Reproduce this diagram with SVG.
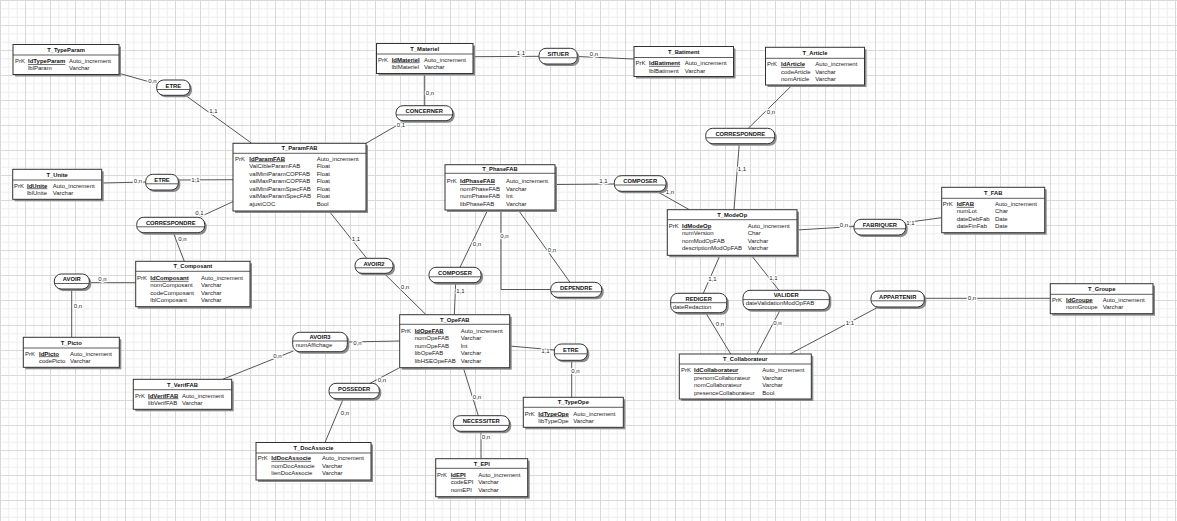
<svg xmlns="http://www.w3.org/2000/svg" width="1177" height="521" viewBox="0 0 1177 521">
<defs>
<pattern id="grid" width="25" height="25" patternUnits="userSpaceOnUse">
<rect width="25" height="25" fill="#ffffff"/>
<path d="M8.83 0V25M17.17 0V25M0 8.83H25M0 17.17H25" stroke="#eeeeee" stroke-width="1" fill="none"/>
<path d="M0.5 0V25M0 0.5H25" stroke="#d9d9d9" stroke-width="1" fill="none"/>
</pattern>
<style>
text{font-family:"Liberation Sans",Arial,sans-serif;font-size:6px;fill:#222}
.ti{font-weight:bold;font-size:5.8px;text-anchor:middle;fill:#111}
.pk{font-weight:bold;text-decoration:underline;fill:#111}
.sh{fill:#8a8a8a}
.bx{fill:#fff;stroke:#333;stroke-width:1}
.dv{stroke:#333;stroke-width:0.8}
.cn line,.cn polyline{stroke:#555;stroke-width:1;fill:none}
.lb{text-anchor:middle;paint-order:stroke;stroke:#fff;stroke-width:2.5px;stroke-linejoin:round}
</style>
</defs>
<rect width="1177" height="521" fill="url(#grid)"/>

<g id="connectors" class="cn">
<line x1="119" y1="73.3" x2="157" y2="84"/>
<line x1="185.7" y1="95.5" x2="251.7" y2="143.3"/>
<line x1="101.7" y1="183" x2="145.7" y2="182"/>
<line x1="178.3" y1="180" x2="233.3" y2="179.7"/>
<line x1="473" y1="56.7" x2="539" y2="56.3"/>
<line x1="577.3" y1="56.5" x2="634" y2="59"/>
<line x1="424.3" y1="73.7" x2="424.3" y2="105.7"/>
<line x1="405" y1="120.7" x2="366" y2="143.3"/>
<line x1="792.3" y1="85" x2="748.3" y2="128.3"/>
<line x1="739.3" y1="143.7" x2="734" y2="209.7"/>
<line x1="555" y1="184.5" x2="614.3" y2="184"/>
<line x1="656.7" y1="191.3" x2="689.3" y2="209.7"/>
<line x1="797" y1="230" x2="854" y2="226.5"/>
<line x1="905.7" y1="222.5" x2="941.7" y2="217.7"/>
<line x1="233.3" y1="201.5" x2="199" y2="217.3"/>
<line x1="173.3" y1="232.7" x2="184.3" y2="261.3"/>
<line x1="135.7" y1="282.7" x2="89.3" y2="282.7"/>
<line x1="71.7" y1="289" x2="71.7" y2="337.3"/>
<line x1="329" y1="211" x2="366.7" y2="258.3"/>
<line x1="384" y1="273.3" x2="426" y2="314.7"/>
<line x1="487.7" y1="210" x2="460" y2="267.3"/>
<line x1="455.7" y1="282.7" x2="454.3" y2="314.7"/>
<line x1="518.3" y1="210" x2="570" y2="282.3"/>
<polyline points="501,210 501,289.5 550.7,289.5"/>
<line x1="720" y1="255.3" x2="703.3" y2="293.3"/>
<line x1="705.7" y1="312.7" x2="730.7" y2="354"/>
<line x1="751.3" y1="255.3" x2="779" y2="290.3"/>
<line x1="780.3" y1="309.7" x2="757" y2="354"/>
<line x1="879.3" y1="306.5" x2="790" y2="354"/>
<line x1="924.3" y1="298.3" x2="1050.3" y2="298.3"/>
<line x1="399.7" y1="341" x2="347.3" y2="342"/>
<line x1="293.3" y1="351" x2="222.7" y2="379.3"/>
<line x1="509.7" y1="346" x2="554.3" y2="350"/>
<line x1="571.7" y1="360.3" x2="571.7" y2="397.3"/>
<line x1="399" y1="368" x2="370" y2="383.3"/>
<line x1="343.3" y1="398.7" x2="325" y2="442.5"/>
<line x1="463.3" y1="367.7" x2="478.3" y2="415.7"/>
<line x1="481" y1="431.3" x2="481" y2="458.7"/>
<text class="lb" x="152.5" y="82.8">0,n</text>
<text class="lb" x="213.3" y="113.1">1,1</text>
<text class="lb" x="138" y="182.8">0,n</text>
<text class="lb" x="195.5" y="182.1">1,1</text>
<text class="lb" x="521" y="55.4">1,1</text>
<text class="lb" x="594" y="56.4">0,n</text>
<text class="lb" x="430" y="94.8">0,n</text>
<text class="lb" x="401" y="127.1">0,1</text>
<text class="lb" x="771" y="113.8">0,n</text>
<text class="lb" x="742" y="171.4">1,1</text>
<text class="lb" x="603.5" y="183.1">1,1</text>
<text class="lb" x="670" y="194.4">1,n</text>
<text class="lb" x="844" y="227.4">0,n</text>
<text class="lb" x="910.5" y="224.6">1,1</text>
<text class="lb" x="199.5" y="215.4">0,1</text>
<text class="lb" x="182.5" y="241.1">0,n</text>
<text class="lb" x="102.5" y="281.1">0,n</text>
<text class="lb" x="78" y="307.8">0,n</text>
<text class="lb" x="356" y="241.4">1,1</text>
<text class="lb" x="405" y="288.8">0,n</text>
<text class="lb" x="477" y="246.1">0,n</text>
<text class="lb" x="460.5" y="293.1">1,1</text>
<text class="lb" x="552" y="252.1">0,n</text>
<text class="lb" x="504.5" y="238.1">0,n</text>
<text class="lb" x="712.3" y="281.4">1,1</text>
<text class="lb" x="720" y="325.8">0,n</text>
<text class="lb" x="773.3" y="279.8">1,1</text>
<text class="lb" x="777.3" y="324.8">0,n</text>
<text class="lb" x="850" y="324.8">1,1</text>
<text class="lb" x="972" y="300.4">0,n</text>
<text class="lb" x="357.5" y="344.6">0,n</text>
<text class="lb" x="277.5" y="358.1">0,n</text>
<text class="lb" x="545.5" y="352.6">1,1</text>
<text class="lb" x="575.5" y="372.8">0,n</text>
<text class="lb" x="382" y="382.1">0,n</text>
<text class="lb" x="345" y="414.8">0,n</text>
<text class="lb" x="477" y="398.8">0,n</text>
<text class="lb" x="486" y="439.4">0,n</text>
</g>

<g id="T_TypeParam">
<rect class="sh" x="15" y="46.5" width="106" height="30"/>
<rect class="bx" x="13" y="44.5" width="106" height="30"/>
<line class="dv" x1="13" y1="55" x2="119" y2="55"/>
<text class="ti" x="66" y="51.85">T_TypeParam</text>
<text x="15" y="63.1">PrK</text><text class="pk" x="28" y="63.1">IdTypeParam</text><text x="69" y="63.1">Auto_increment</text>
<text x="28" y="70.4">lblParam</text><text x="69" y="70.4">Varchar</text>
</g>

<g id="T_Materiel">
<rect class="sh" x="378.5" y="45.5" width="96.5" height="30"/>
<rect class="bx" x="376.5" y="43.5" width="96.5" height="30"/>
<line class="dv" x1="376.5" y1="54" x2="473" y2="54"/>
<text class="ti" x="424.7" y="50.85">T_Materiel</text>
<text x="378" y="61.5">PrK</text><text class="pk" x="391.7" y="61.5">IdMateriel</text><text x="424" y="61.5">Auto_increment</text>
<text x="391.7" y="69.2">lblMateriel</text><text x="424" y="69.2">Varchar</text>
</g>

<g id="T_Batiment">
<rect class="sh" x="636" y="48.5" width="99.5" height="30"/>
<rect class="bx" x="634" y="46.5" width="99.5" height="30"/>
<line class="dv" x1="634" y1="57.5" x2="733.5" y2="57.5"/>
<text class="ti" x="683.7" y="54.1">T_Batiment</text>
<text x="635.5" y="64.9">PrK</text><text class="pk" x="649" y="64.9">IdBatiment</text><text x="684.7" y="64.9">Auto_increment</text>
<text x="649" y="72.5">lblBatiment</text><text x="684.7" y="72.5">Varchar</text>
</g>

<g id="T_Article">
<rect class="sh" x="767.5" y="49.3" width="99" height="37.7"/>
<rect class="bx" x="765.5" y="47.3" width="99" height="37.7"/>
<line class="dv" x1="765.5" y1="58.3" x2="864.5" y2="58.3"/>
<text class="ti" x="815" y="54.9">T_Article</text>
<text x="767" y="65.9">PrK</text><text class="pk" x="781" y="65.9">IdArticle</text><text x="815.3" y="65.9">Auto_increment</text>
<text x="781" y="73.5">codeArticle</text><text x="815.3" y="73.5">Varchar</text>
<text x="781" y="81.1">nomArticle</text><text x="815.3" y="81.1">Varchar</text>
</g>

<g id="T_ParamFAB">
<rect class="sh" x="235" y="145.3" width="133" height="67.7"/>
<rect class="bx" x="233" y="143.3" width="133" height="67.7"/>
<line class="dv" x1="233" y1="153.3" x2="366" y2="153.3"/>
<text class="ti" x="299.5" y="150.4">T_ParamFAB</text>
<text x="235" y="160.5">PrK</text><text class="pk" x="249.3" y="160.5">IdParamFAB</text><text x="316.7" y="160.5">Auto_increment</text>
<text x="249.3" y="168">ValCibleParamFAB</text><text x="316.7" y="168">Float</text>
<text x="249.3" y="175.5">valMiniParamCOPFAB</text><text x="316.7" y="175.5">Float</text>
<text x="249.3" y="183">valMaxParamCOPFAB</text><text x="316.7" y="183">Float</text>
<text x="249.3" y="190.5">valMiniParamSpecFAB</text><text x="316.7" y="190.5">Float</text>
<text x="249.3" y="198">valMaxParamSpecFAB</text><text x="316.7" y="198">Float</text>
<text x="249.3" y="205.5">ajustCOC</text><text x="316.7" y="205.5">Bool</text>
</g>

<g id="T_Unite">
<rect class="sh" x="14.7" y="171.3" width="89" height="30"/>
<rect class="bx" x="12.7" y="169.3" width="89" height="30"/>
<line class="dv" x1="12.7" y1="180" x2="101.7" y2="180"/>
<text class="ti" x="57.2" y="176.75">T_Unite</text>
<text x="14" y="187.5">PrK</text><text class="pk" x="27" y="187.5">IdUnite</text><text x="52.7" y="187.5">Auto_increment</text>
<text x="27" y="195.2">lblUnite</text><text x="52.7" y="195.2">Varchar</text>
</g>

<g id="T_PhaseFAB">
<rect class="sh" x="447" y="166.7" width="110" height="45.3"/>
<rect class="bx" x="445" y="164.7" width="110" height="45.3"/>
<line class="dv" x1="445" y1="173.3" x2="555" y2="173.3"/>
<text class="ti" x="500" y="171.1">T_PhaseFAB</text>
<text x="446.7" y="183.2">PrK</text><text class="pk" x="460" y="183.2">IdPhaseFAB</text><text x="506" y="183.2">Auto_increment</text>
<text x="460" y="190.7">nomPhaseFAB</text><text x="506" y="190.7">Varchar</text>
<text x="460" y="198.2">numPhaseFAB</text><text x="506" y="198.2">Int</text>
<text x="460" y="205.7">libPhaseFAB</text><text x="506" y="205.7">Varchar</text>
</g>

<g id="T_ModeOp">
<rect class="sh" x="669.3" y="211.7" width="129.7" height="45.6"/>
<rect class="bx" x="667.3" y="209.7" width="129.7" height="45.6"/>
<line class="dv" x1="667.3" y1="219.7" x2="797" y2="219.7"/>
<text class="ti" x="732.2" y="216.8">T_ModeOp</text>
<text x="668.7" y="227.9">PrK</text><text class="pk" x="682" y="227.9">IdModeOp</text><text x="747.7" y="227.9">Auto_increment</text>
<text x="682" y="235.4">numVersion</text><text x="747.7" y="235.4">Char</text>
<text x="682" y="242.9">nomModOpFAB</text><text x="747.7" y="242.9">Varchar</text>
<text x="682" y="250.4">descriptionModOpFAB</text><text x="747.7" y="250.4">Varchar</text>
</g>

<g id="T_FAB">
<rect class="sh" x="943.7" y="189.3" width="103" height="45.4"/>
<rect class="bx" x="941.7" y="187.3" width="103" height="45.4"/>
<line class="dv" x1="941.7" y1="198.3" x2="1044.7" y2="198.3"/>
<text class="ti" x="993.2" y="194.9">T_FAB</text>
<text x="942.7" y="205.9">PrK</text><text class="pk" x="956.7" y="205.9">IdFAB</text><text x="995" y="205.9">Auto_increment</text>
<text x="956.7" y="213.4">numLot</text><text x="995" y="213.4">Char</text>
<text x="956.7" y="220.9">dateDebFab</text><text x="995" y="220.9">Date</text>
<text x="956.7" y="228.4">dateFinFab</text><text x="995" y="228.4">Date</text>
</g>

<g id="T_Groupe">
<rect class="sh" x="1052.3" y="285.7" width="102.7" height="30"/>
<rect class="bx" x="1050.3" y="283.7" width="102.7" height="30"/>
<line class="dv" x1="1050.3" y1="294.3" x2="1153" y2="294.3"/>
<text class="ti" x="1101.7" y="291.1">T_Groupe</text>
<text x="1052" y="301.5">PrK</text><text class="pk" x="1066" y="301.5">IdGroupe</text><text x="1102.7" y="301.5">Auto_increment</text>
<text x="1066" y="309.2">nomGroupe</text><text x="1102.7" y="309.2">Varchar</text>
</g>

<g id="T_Composant">
<rect class="sh" x="137.7" y="263.3" width="114.3" height="45.4"/>
<rect class="bx" x="135.7" y="261.3" width="114.3" height="45.4"/>
<line class="dv" x1="135.7" y1="271.3" x2="250" y2="271.3"/>
<text class="ti" x="192.8" y="268.4">T_Composant</text>
<text x="137" y="279.9">PrK</text><text class="pk" x="150.3" y="279.9">IdComposant</text><text x="201" y="279.9">Auto_increment</text>
<text x="150.3" y="287.4">nomComposant</text><text x="201" y="287.4">Varchar</text>
<text x="150.3" y="294.9">codeComposant</text><text x="201" y="294.9">Varchar</text>
<text x="150.3" y="302.4">lblComposant</text><text x="201" y="302.4">Varchar</text>
</g>

<g id="T_Picto">
<rect class="sh" x="25.3" y="339.3" width="96" height="30"/>
<rect class="bx" x="23.3" y="337.3" width="96" height="30"/>
<line class="dv" x1="23.3" y1="348" x2="119.3" y2="348"/>
<text class="ti" x="71.3" y="344.75">T_Picto</text>
<text x="25" y="355.5">PrK</text><text class="pk" x="39" y="355.5">IdPicto</text><text x="70" y="355.5">Auto_increment</text>
<text x="39" y="363.2">codePicto</text><text x="70" y="363.2">Varchar</text>
</g>

<g id="T_OpeFAB">
<rect class="sh" x="401.7" y="316.7" width="110" height="53"/>
<rect class="bx" x="399.7" y="314.7" width="110" height="53"/>
<line class="dv" x1="399.7" y1="324.3" x2="509.7" y2="324.3"/>
<text class="ti" x="454.7" y="321.6">T_OpeFAB</text>
<text x="401" y="332.5">PrK</text><text class="pk" x="414.7" y="332.5">IdOpeFAB</text><text x="460.7" y="332.5">Auto_increment</text>
<text x="414.7" y="340">nomOpeFAB</text><text x="460.7" y="340">Varchar</text>
<text x="414.7" y="347.5">numOpeFAB</text><text x="460.7" y="347.5">Int</text>
<text x="414.7" y="355">libOpeFAB</text><text x="460.7" y="355">Varchar</text>
<text x="414.7" y="362.5">libHSEOpeFAB</text><text x="460.7" y="362.5">Varchar</text>
</g>

<g id="T_VerifFAB">
<rect class="sh" x="135.3" y="381.3" width="98.4" height="30"/>
<rect class="bx" x="133.3" y="379.3" width="98.4" height="30"/>
<line class="dv" x1="133.3" y1="389.7" x2="231.7" y2="389.7"/>
<text class="ti" x="182.5" y="386.6">T_VerifFAB</text>
<text x="135" y="397.5">PrK</text><text class="pk" x="148" y="397.5">IdVerifFAB</text><text x="182" y="397.5">Auto_increment</text>
<text x="148" y="404.9">libVerifFAB</text><text x="182" y="404.9">Varchar</text>
</g>

<g id="T_DocAssocie">
<rect class="sh" x="258" y="444.5" width="115" height="37.5"/>
<rect class="bx" x="256" y="442.5" width="115" height="37.5"/>
<line class="dv" x1="256" y1="453" x2="371" y2="453"/>
<text class="ti" x="313.5" y="449.85">T_DocAssocie</text>
<text x="257.7" y="459.9">PrK</text><text class="pk" x="271.3" y="459.9">IdDocAssocie</text><text x="322" y="459.9">Auto_increment</text>
<text x="271.3" y="467.5">nomDocAssocie</text><text x="322" y="467.5">Varchar</text>
<text x="271.3" y="475.1">lienDocAssocie</text><text x="322" y="475.1">Varchar</text>
</g>

<g id="T_EPI">
<rect class="sh" x="437.7" y="460.7" width="92" height="38"/>
<rect class="bx" x="435.7" y="458.7" width="92" height="38"/>
<line class="dv" x1="435.7" y1="468.3" x2="527.7" y2="468.3"/>
<text class="ti" x="481.7" y="465.6">T_EPI</text>
<text x="437" y="476.9">PrK</text><text class="pk" x="450.7" y="476.9">IdEPI</text><text x="478.3" y="476.9">Auto_increment</text>
<text x="450.7" y="484.2">codeEPI</text><text x="478.3" y="484.2">Varchar</text>
<text x="450.7" y="491.5">nomEPI</text><text x="478.3" y="491.5">Varchar</text>
</g>

<g id="T_TypeOpe">
<rect class="sh" x="525.3" y="399.3" width="100" height="30"/>
<rect class="bx" x="523.3" y="397.3" width="100" height="30"/>
<line class="dv" x1="523.3" y1="407.3" x2="623.3" y2="407.3"/>
<text class="ti" x="573.3" y="404.4">T_TypeOpe</text>
<text x="524.7" y="415.5">PrK</text><text class="pk" x="538.3" y="415.5">IdTypeOpe</text><text x="573.3" y="415.5">Auto_increment</text>
<text x="538.3" y="422.9">libTypeOpe</text><text x="573.3" y="422.9">Varchar</text>
</g>

<g id="T_Collaborateur">
<rect class="sh" x="681.3" y="356" width="132" height="45"/>
<rect class="bx" x="679.3" y="354" width="132" height="45"/>
<line class="dv" x1="679.3" y1="364" x2="811.3" y2="364"/>
<text class="ti" x="745.3" y="361.1">T_Collaborateur</text>
<text x="681" y="372.2">PrK</text><text class="pk" x="694" y="372.2">IdCollaborateur</text><text x="762.3" y="372.2">Auto_increment</text>
<text x="694" y="379.7">prenomCollaborateur</text><text x="762.3" y="379.7">Varchar</text>
<text x="694" y="387.2">nomCollaborateur</text><text x="762.3" y="387.2">Varchar</text>
<text x="694" y="394.7">presenceCollaborateur</text><text x="762.3" y="394.7">Bool</text>
</g>

<g id="A_ETRE_TypeParam">
<rect class="sh" x="158.7" y="82" width="33.3" height="15.3" rx="7"/>
<rect class="bx" x="156.7" y="80" width="33.3" height="15.3" rx="7"/>
<line class="dv" x1="157.2" y1="89.5" x2="189.5" y2="89.5"/>
<text class="ti" x="173.3" y="87.5">ETRE</text>
</g>
<g id="A_ETRE_Unite">
<rect class="sh" x="147.7" y="176.3" width="32.6" height="15.7" rx="7"/>
<rect class="bx" x="145.7" y="174.3" width="32.6" height="15.7" rx="7"/>
<line class="dv" x1="146.2" y1="183.8" x2="177.8" y2="183.8"/>
<text class="ti" x="162" y="181.7">ETRE</text>
</g>
<g id="A_SITUER">
<rect class="sh" x="541" y="50.3" width="38.3" height="15.7" rx="7"/>
<rect class="bx" x="539" y="48.3" width="38.3" height="15.7" rx="7"/>
<line class="dv" x1="539.5" y1="57.8" x2="576.8" y2="57.8"/>
<text class="ti" x="558.2" y="55.7">SITUER</text>
</g>
<g id="A_CONCERNER">
<rect class="sh" x="398" y="107.7" width="56.7" height="15" rx="7"/>
<rect class="bx" x="396" y="105.7" width="56.7" height="15" rx="7"/>
<line class="dv" x1="396.5" y1="114.9" x2="452.2" y2="114.9"/>
<text class="ti" x="424.3" y="112.7">CONCERNER</text>
</g>
<g id="A_CORRESPONDRE_Article">
<rect class="sh" x="707.7" y="130.3" width="69" height="15.4" rx="7"/>
<rect class="bx" x="705.7" y="128.3" width="69" height="15.4" rx="7"/>
<line class="dv" x1="706.2" y1="137.8" x2="774.2" y2="137.8"/>
<text class="ti" x="740.2" y="135.7">CORRESPONDRE</text>
</g>
<g id="A_COMPOSER_ModeOp">
<rect class="sh" x="616.3" y="177.7" width="51.7" height="15.6" rx="7"/>
<rect class="bx" x="614.3" y="175.7" width="51.7" height="15.6" rx="7"/>
<line class="dv" x1="614.8" y1="185" x2="665.5" y2="185"/>
<text class="ti" x="640.2" y="182.7">COMPOSER</text>
</g>
<g id="A_FABRIQUER">
<rect class="sh" x="856" y="221.3" width="51.7" height="15.7" rx="7"/>
<rect class="bx" x="854" y="219.3" width="51.7" height="15.7" rx="7"/>
<line class="dv" x1="854.5" y1="228.8" x2="905.2" y2="228.8"/>
<text class="ti" x="879.9" y="226.7">FABRIQUER</text>
</g>
<g id="A_CORRESPONDRE_Composant">
<rect class="sh" x="138.7" y="219.3" width="68" height="15.4" rx="7"/>
<rect class="bx" x="136.7" y="217.3" width="68" height="15.4" rx="7"/>
<line class="dv" x1="137.2" y1="226.8" x2="204.2" y2="226.8"/>
<text class="ti" x="170.7" y="224.7">CORRESPONDRE</text>
</g>
<g id="A_AVOIR">
<rect class="sh" x="56.3" y="276" width="35" height="15" rx="7"/>
<rect class="bx" x="54.3" y="274" width="35" height="15" rx="7"/>
<line class="dv" x1="54.8" y1="283.5" x2="88.8" y2="283.5"/>
<text class="ti" x="71.8" y="281.3">AVOIR</text>
</g>
<g id="A_AVOIR2">
<rect class="sh" x="357" y="260.3" width="38" height="15" rx="7"/>
<rect class="bx" x="355" y="258.3" width="38" height="15" rx="7"/>
<line class="dv" x1="355.5" y1="267.8" x2="392.5" y2="267.8"/>
<text class="ti" x="374" y="265.7">AVOIR2</text>
</g>
<g id="A_COMPOSER_OpeFAB">
<rect class="sh" x="431" y="269.3" width="52" height="15.4" rx="7"/>
<rect class="bx" x="429" y="267.3" width="52" height="15.4" rx="7"/>
<line class="dv" x1="429.5" y1="276.8" x2="480.5" y2="276.8"/>
<text class="ti" x="455" y="274.7">COMPOSER</text>
</g>
<g id="A_DEPENDRE">
<rect class="sh" x="552.7" y="284.3" width="51" height="15" rx="7"/>
<rect class="bx" x="550.7" y="282.3" width="51" height="15" rx="7"/>
<line class="dv" x1="551.2" y1="291.8" x2="601.2" y2="291.8"/>
<text class="ti" x="576.2" y="289.7">DEPENDRE</text>
</g>
<g id="A_REDIGER">
<rect class="sh" x="672.7" y="295.3" width="56" height="19.4" rx="7"/>
<rect class="bx" x="670.7" y="293.3" width="56" height="19.4" rx="7"/>
<line class="dv" x1="671" y1="302.7" x2="726.4" y2="302.7"/>
<text class="ti" x="698.7" y="300.7">REDIGER</text>
<text x="672.7" y="308.8">dateRedaction</text>
</g>
<g id="A_VALIDER">
<rect class="sh" x="745" y="292.3" width="86.3" height="19.4" rx="7"/>
<rect class="bx" x="743" y="290.3" width="86.3" height="19.4" rx="7"/>
<line class="dv" x1="743.3" y1="299.6" x2="829" y2="299.6"/>
<text class="ti" x="786.2" y="297.3">VALIDER</text>
<text x="745.7" y="305.4">dateValidationModOpFAB</text>
</g>
<g id="A_APPARTENIR">
<rect class="sh" x="873" y="293" width="53.3" height="16" rx="7"/>
<rect class="bx" x="871" y="291" width="53.3" height="16" rx="7"/>
<line class="dv" x1="871.5" y1="300.8" x2="923.8" y2="300.8"/>
<text class="ti" x="897.7" y="298.7">APPARTENIR</text>
</g>
<g id="A_AVOIR3">
<rect class="sh" x="294.7" y="334.3" width="54.6" height="19.4" rx="7"/>
<rect class="bx" x="292.7" y="332.3" width="54.6" height="19.4" rx="7"/>
<line class="dv" x1="293" y1="341" x2="347" y2="341"/>
<text class="ti" x="320" y="339">AVOIR3</text>
<text x="295.7" y="347.4">numAffichage</text>
</g>
<g id="A_ETRE_TypeOpe">
<rect class="sh" x="556.3" y="346" width="33" height="16.3" rx="7"/>
<rect class="bx" x="554.3" y="344" width="33" height="16.3" rx="7"/>
<line class="dv" x1="554.8" y1="353.8" x2="586.8" y2="353.8"/>
<text class="ti" x="570.8" y="351.7">ETRE</text>
</g>
<g id="A_POSSEDER">
<rect class="sh" x="331" y="385.3" width="50.3" height="15.4" rx="7"/>
<rect class="bx" x="329" y="383.3" width="50.3" height="15.4" rx="7"/>
<line class="dv" x1="329.5" y1="392.8" x2="378.8" y2="392.8"/>
<text class="ti" x="354.2" y="390.7">POSSEDER</text>
</g>
<g id="A_NECESSITER">
<rect class="sh" x="455.3" y="417.7" width="56" height="15.6" rx="7"/>
<rect class="bx" x="453.3" y="415.7" width="56" height="15.6" rx="7"/>
<line class="dv" x1="453.8" y1="425.4" x2="508.8" y2="425.4"/>
<text class="ti" x="481.3" y="423.3">NECESSITER</text>
</g>
</svg>
